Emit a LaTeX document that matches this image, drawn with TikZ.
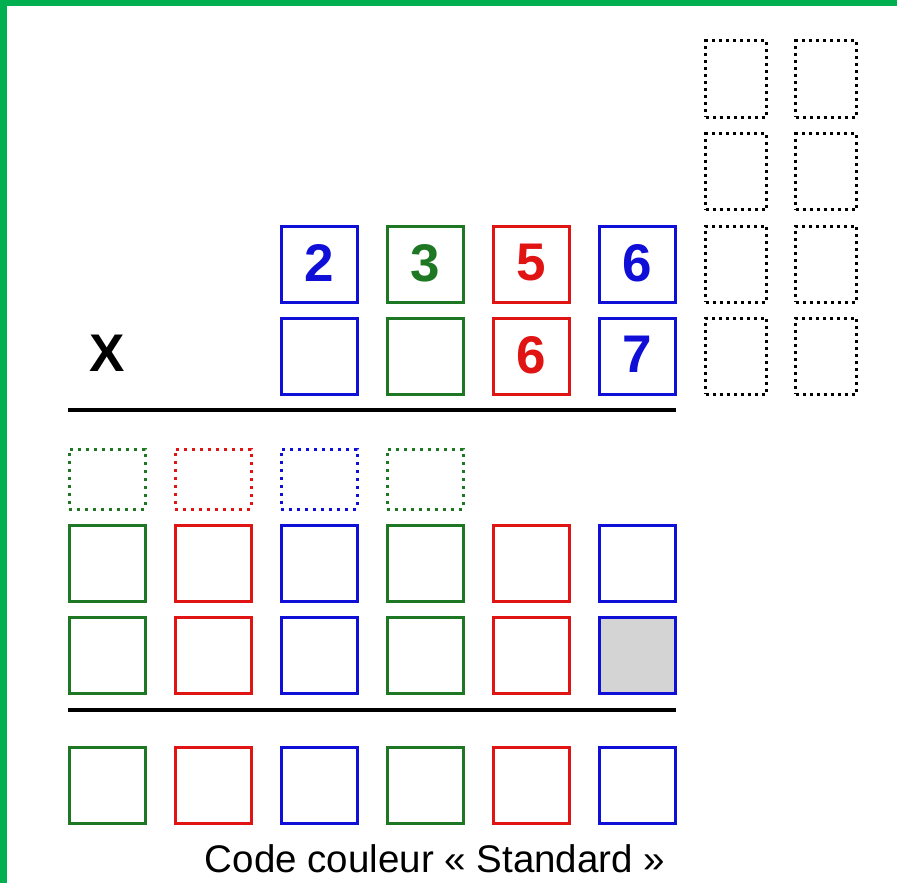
\documentclass[tikz,border=0pt]{standalone}
\usepackage{fontspec}
\setmainfont{Liberation Sans}
\definecolor{cblue}{RGB}{15,15,215}
\definecolor{cgreen}{RGB}{30,120,35}
\definecolor{cred}{RGB}{225,20,20}
\definecolor{cframe}{RGB}{0,176,80}
\definecolor{cshade}{RGB}{212,212,212}
\usetikzlibrary{positioning}

\begin{document}
\begin{tikzpicture}[x=1pt,y=-1pt,
  cell/.style={draw,line width=3pt,inner sep=0pt,minimum width=76pt,minimum height=76pt,font=\fontsize{53}{53}\selectfont\bfseries},
  carry/.style={draw,line width=3pt,dash pattern=on 3pt off 5pt,inner sep=0pt,minimum width=76pt,minimum height=60pt},
  spare/.style={draw=black,line width=3pt,dash pattern=on 3pt off 4pt,inner sep=0pt,minimum width=61pt,minimum height=76pt}]
  \useasboundingbox (0,0) rectangle (897,883);
  \fill[cframe] (0,0) rectangle (7,883);
  \fill[cframe] (0,0) rectangle (897,6);
  % Multiplicand
  \node[cell,cblue] (m1) at (319,264) {\raisebox{3pt}{2}};
  \node[cell,cgreen] (m2) at (425,264) {\raisebox{3pt}{3}};
  \node[cell,cred] (m3) at (531,264) {\raisebox{3pt}{5}};
  \node[cell,cblue] (m4) at (637,264) {\raisebox{3pt}{6}};
  % Multiplier
  \node[font=\fontsize{53}{53}\selectfont\bfseries] (times) at (107,353) {X};
  \node[cell,cblue] (n1) at (319,356) {};
  \node[cell,cgreen] (n2) at (425,356) {};
  \node[cell,cred] (n3) at (531,356) {\raisebox{3pt}{6}};
  \node[cell,cblue] (n4) at (637,356) {\raisebox{3pt}{7}};
  % Spare boxes
  \node[spare] (s11) at (736,79) {};
  \node[spare] (s12) at (826,79) {};
  \node[spare] (s21) at (736,171.5) {};
  \node[spare] (s22) at (826,171.5) {};
  \node[spare] (s31) at (736,264) {};
  \node[spare] (s32) at (826,264) {};
  \node[spare] (s41) at (736,356) {};
  \node[spare] (s42) at (826,356) {};
  % First rule
  \coordinate (ra) at (68,410);
  \coordinate (rb) at (676,410);
  \draw[line width=4pt] (ra) -- (rb);
  % Carries
  \node[carry,cgreen] (c1) at (107,479) {};
  \node[carry,cred] (c2) at (213,479) {};
  \node[carry,cblue] (c3) at (319,479) {};
  \node[carry,cgreen] (c4) at (425,479) {};
  % Partial products
  \node[cell,cgreen] (a1) at (107,563) {};
  \node[cell,cred] (a2) at (213,563) {};
  \node[cell,cblue] (a3) at (319,563) {};
  \node[cell,cgreen] (a4) at (425,563) {};
  \node[cell,cred] (a5) at (531,563) {};
  \node[cell,cblue] (a6) at (637,563) {};
  \node[cell,cgreen] (b1) at (107,655.5) {};
  \node[cell,cred] (b2) at (213,655.5) {};
  \node[cell,cblue] (b3) at (319,655.5) {};
  \node[cell,cgreen] (b4) at (425,655.5) {};
  \node[cell,cred] (b5) at (531,655.5) {};
  \node[cell,cblue,fill=cshade] (b6) at (637,655.5) {};
  % Second rule
  \coordinate (rc) at (68,710);
  \coordinate (rd) at (676,710);
  \draw[line width=4pt] (rc) -- (rd);
  % Result
  \node[cell,cgreen] (r1) at (107,785.5) {};
  \node[cell,cred] (r2) at (213,785.5) {};
  \node[cell,cblue] (r3) at (319,785.5) {};
  \node[cell,cgreen] (r4) at (425,785.5) {};
  \node[cell,cred] (r5) at (531,785.5) {};
  \node[cell,cblue] (r6) at (637,785.5) {};
  \node[anchor=base,font=\fontsize{38.5}{38.5}\selectfont] (caption) at (435,872) {Code couleur « Standard »};
\end{tikzpicture}
\end{document}
